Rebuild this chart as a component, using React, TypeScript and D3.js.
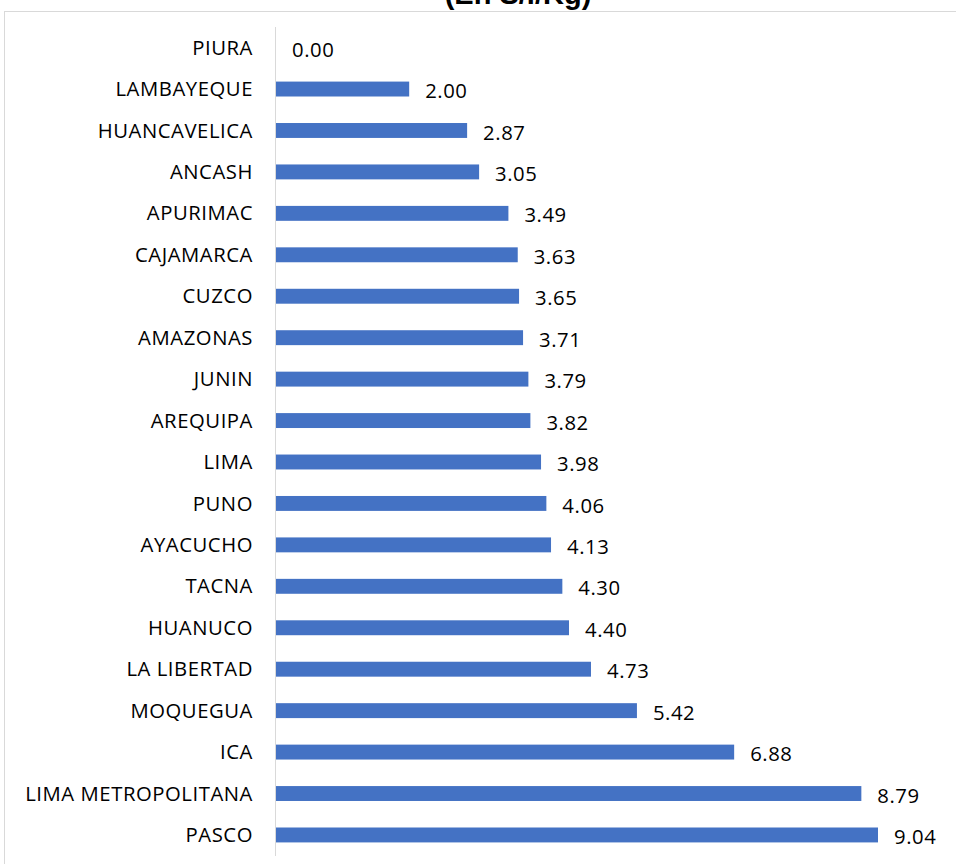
import React from 'react';
import * as d3 from 'd3';

const width = 956;
const height = 864;
const blue = '#4472C4';
const grey = '#D9D9D9';

const regions = [
  'PIURA', 'LAMBAYEQUE', 'HUANCAVELICA', 'ANCASH', 'APURIMAC', 'CAJAMARCA', 'CUZCO',
  'AMAZONAS', 'JUNIN', 'AREQUIPA', 'LIMA', 'PUNO', 'AYACUCHO', 'TACNA', 'HUANUCO',
  'LA LIBERTAD', 'MOQUEGUA', 'ICA', 'LIMA METROPOLITANA', 'PASCO',
];
const prices = [
  0.0, 2.0, 2.87, 3.05, 3.49, 3.63, 3.65, 3.71, 3.79, 3.82, 3.98, 4.06, 4.13, 4.3, 4.4,
  4.73, 5.42, 6.88, 8.79, 9.04,
];
const title = '(En S/./Kg)';

export default function App() {
  const x0 = 276;
  const step = 41.44;
  const top = 47.6 - step / 2;

  const x = d3.scaleLinear().domain([0, 9.04]).range([x0, 878]);
  const y = d3
    .scaleBand<string>()
    .domain(regions)
    .range([top, top + step * regions.length])
    .paddingInner(0.64)
    .paddingOuter(0.32);

  const font = '"Open Sans", Lato, sans-serif';
  const fs = 20.3;
  const ls = 0.55;

  return (
    <svg
      width={width}
      height={height}
      style={{ position: 'absolute', left: 0, top: 0, background: '#fff' }}
    >
      <rect x={4.5} y={11.5} width={1000} height={1000} fill="#fff" stroke={grey} />
      <text
        x={518}
        y={4}
        textAnchor="middle"
        fontFamily="Arial, 'Liberation Sans', sans-serif"
        fontWeight="bold"
        fontSize={29}
      >
        {title}
      </text>
      <g>
        {regions.map((r, i) => {
          const yc = (y(r) as number) + y.bandwidth() / 2;
          return (
            <g key={r}>
              <rect
                x={x(0)}
                y={y(r)}
                width={x(prices[i]) - x(0)}
                height={y.bandwidth()}
                fill={blue}
              />
              <text
                x={253}
                y={yc}
                dy="0.35em"
                textAnchor="end"
                fontFamily={font}
                fontSize={fs}
                letterSpacing={ls}
                fill="#000"
              >
                {r}
              </text>
              <text
                x={x(prices[i]) + 16}
                y={yc + 2}
                dy="0.35em"
                fontFamily={font}
                fontSize={fs}
                letterSpacing={ls}
                fill="#000"
              >
                {d3.format('.2f')(prices[i])}
              </text>
            </g>
          );
        })}
      </g>
      <line x1={x0 - 0.5} x2={x0 - 0.5} y1={27} y2={856} stroke={grey} strokeWidth={1} />
    </svg>
  );
}
